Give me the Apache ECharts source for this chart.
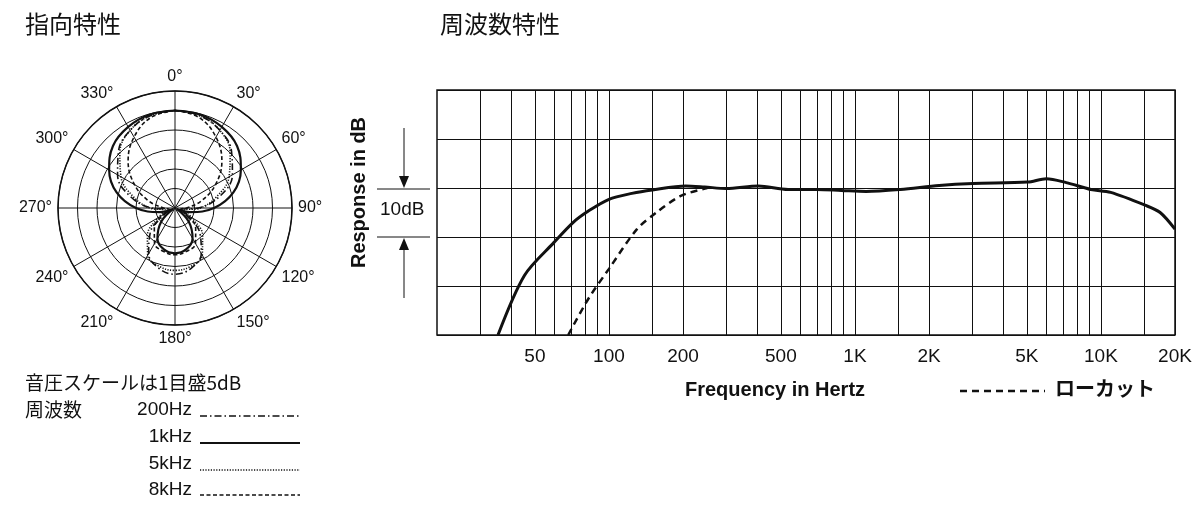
<!DOCTYPE html>
<html><head><meta charset="utf-8">
<script src="https://cdn.jsdelivr.net/npm/echarts@6/dist/echarts.min.js"></script>
<style>html,body{margin:0;background:#fff}#c{width:1200px;height:510px}</style>
</head><body><div id="c"></div>
<script>
// polar pattern, radius in dB steps (0..30, 5dB per ring), 0..180 every 15 deg, mirrored
const angles = [0, 15, 30, 45, 60, 75, 90, 105, 120, 135, 150, 165, 180];
const p200 = [25, 24.5, 23, 20.5, 17, 12, 6, 1.5, 3, 9, 13.5, 16, 17];
const p1k = [25, 24.8, 24, 22.5, 19.5, 15.5, 10, 4, 0.5, 5, 9, 11, 11.6];
const p5k = [25, 24.5, 23, 20, 16, 11, 6.5, 2.5, 5, 10, 14, 15.5, 16];
const p8k = [25, 24, 21, 17, 12, 7, 3, 1.5, 4, 7.5, 10.5, 11.5, 12];

// frequency response
const freqMain = [35.4, 45.4, 59.8, 71.6, 82.5, 100, 124, 150, 205, 245, 300, 405, 535, 700, 880, 1110, 1530, 2200, 3020, 5030, 6000, 7230, 9100, 10950, 15100, 17400, 20000];
const dbMain = [-30, -17.8, -11.1, -7, -4.7, -2.3, -1.1, -0.4, 0.4, 0.2, -0.1, 0.4, -0.3, -0.3, -0.5, -0.7, -0.3, 0.5, 0.9, 1.2, 1.9, 1.1, -0.3, -0.9, -3.5, -5, -8.4];
const freqCut = [68.3, 82.5, 100, 130, 156, 196, 251];
const dbCut = [-30, -22.6, -16.5, -8.4, -5, -1.6, 0];
const gridFreqs = [30, 40, 50, 60, 70, 80, 90, 100, 150, 200, 300, 400, 500, 600, 700, 800, 900, 1000, 1500, 2000, 3000, 4000, 5000, 6000, 7000, 8000, 9000, 10000, 15000];
const tickLabels = { 50: '50', 100: '100', 200: '200', 500: '500', 1000: '1K', 2000: '2K', 5000: '5K', 10000: '10K', 20000: '20K' };

const FONT = "'Liberation Sans','Noto Sans CJK JP',sans-serif";
const JP = "'Noto Sans CJK JP',sans-serif";

const mirror = (vals) => {
  const out = angles.map((a, i) => [vals[i], a]);
  for (let i = angles.length - 2; i >= 0; i--) out.push([vals[i], 360 - angles[i]]);
  return out;
};
const polarLine = (name, vals, type, w) => ({
  name, type: 'line', coordinateSystem: 'polar', smooth: 0.4, symbol: 'none',
  data: mirror(vals), lineStyle: { color: '#111', width: w, type }, z: 5,
});

const chart = echarts.init(document.getElementById('c'));
const markData = gridFreqs.map((f) => ({ xAxis: f, label: { show: !!tickLabels[f], formatter: tickLabels[f] || '' } }));
markData.push({ xAxis: 20000, label: { show: true, formatter: '20K' } });

chart.setOption({
  animation: false,
  polar: { center: [175, 208], radius: 117 },
  angleAxis: {
    type: 'value', min: 0, max: 360, interval: 30, startAngle: 90, clockwise: true,
    axisLine: { lineStyle: { color: '#111', width: 1.5 } },
    axisTick: { show: false },
    axisLabel: { formatter: (v) => (v === 360 ? '' : v + '°'), color: '#111', fontSize: 16, fontFamily: FONT, margin: 6 },
    splitLine: { lineStyle: { color: '#111', width: 1 } },
  },
  radiusAxis: {
    min: 0, max: 30, interval: 5,
    axisLine: { show: false }, axisTick: { show: false }, axisLabel: { show: false },
    splitLine: { lineStyle: { color: '#111', width: 1 } },
  },
  grid: { left: 437, top: 90, width: 738, height: 245, show: true, borderColor: '#111', borderWidth: 1.5 },
  xAxis: {
    type: 'log', logBase: 10, min: 20, max: 20000,
    axisLine: { show: false }, axisTick: { show: false }, axisLabel: { show: false }, splitLine: { show: false },
  },
  yAxis: {
    type: 'value', min: -30, max: 20, interval: 10,
    axisLine: { show: false }, axisTick: { show: false }, axisLabel: { show: false },
    splitLine: { lineStyle: { color: '#111', width: 1.2 } },
    name: 'Response in dB', nameLocation: 'middle', nameGap: 68, nameRotate: 90,
    nameTextStyle: { fontSize: 20, fontWeight: 'bold', color: '#111', fontFamily: FONT, padding: [0, 0, 0, 40] },
  },
  series: [
    polarLine('200Hz', p200, [7, 3, 1.5, 3], 1.6),
    polarLine('1kHz', p1k, 'solid', 2.2),
    polarLine('5kHz', p5k, [1.2, 1.5], 1.6),
    polarLine('8kHz', p8k, [4, 2.5], 1.6),
    {
      type: 'line', smooth: 0.3, symbol: 'none', data: freqMain.map((f, i) => [f, dbMain[i]]),
      lineStyle: { color: '#111', width: 3 }, z: 5,
      markLine: {
        silent: true, symbol: 'none', animation: false,
        lineStyle: { color: '#111', width: 1, type: 'solid' },
        label: { position: 'start', color: '#111', fontSize: 19, fontFamily: FONT, distance: 12 },
        data: markData,
      },
    },
    {
      type: 'line', smooth: 0.3, symbol: 'none', data: freqCut.map((f, i) => [f, dbCut[i]]),
      lineStyle: { color: '#111', width: 2.5, type: [7, 5] }, z: 5,
    },
  ],
  graphic: [
    { type: 'text', left: 25, top: 12, style: { text: '指向特性', fontSize: 24, fontFamily: JP, fill: '#111' } },
    { type: 'text', left: 440, top: 12, style: { text: '周波数特性', fontSize: 24, fontFamily: JP, fill: '#111' } },
    { type: 'text', left: 25, top: 373, style: { text: '音圧スケールは1目盛5dB', fontSize: 19, fontFamily: JP, fill: '#111' } },
    { type: 'text', left: 25, top: 400, style: { text: '周波数', fontSize: 19, fontFamily: JP, fill: '#111' } },
    { type: 'text', right: 1008, top: 400, style: { text: '200Hz', fontSize: 19, fontFamily: FONT, fill: '#111', align: 'right' } },
    { type: 'text', right: 1008, top: 427, style: { text: '1kHz', fontSize: 19, fontFamily: FONT, fill: '#111', align: 'right' } },
    { type: 'text', right: 1008, top: 454, style: { text: '5kHz', fontSize: 19, fontFamily: FONT, fill: '#111', align: 'right' } },
    { type: 'text', right: 1008, top: 480, style: { text: '8kHz', fontSize: 19, fontFamily: FONT, fill: '#111', align: 'right' } },
    { type: 'line', shape: { x1: 200, y1: 416, x2: 300, y2: 416 }, style: { stroke: '#111', lineWidth: 1.6, lineDash: [7, 3, 1.5, 3] } },
    { type: 'line', shape: { x1: 200, y1: 443, x2: 300, y2: 443 }, style: { stroke: '#111', lineWidth: 2.2 } },
    { type: 'line', shape: { x1: 200, y1: 470, x2: 300, y2: 470 }, style: { stroke: '#111', lineWidth: 1.6, lineDash: [1.2, 1.5] } },
    { type: 'line', shape: { x1: 200, y1: 495, x2: 300, y2: 495 }, style: { stroke: '#111', lineWidth: 1.6, lineDash: [4, 2.5] } },
    { type: 'text', left: 685, top: 380, style: { text: 'Frequency in Hertz', fontSize: 20, fontWeight: 'bold', fontFamily: FONT, fill: '#111' } },
    { type: 'line', shape: { x1: 960, y1: 391, x2: 1045, y2: 391 }, style: { stroke: '#111', lineWidth: 2.5, lineDash: [7, 5] } },
    { type: 'text', left: 1055, top: 378, style: { text: 'ローカット', fontSize: 20, fontWeight: 'bold', fontFamily: JP, fill: '#111' } },
    { type: 'text', left: 380, top: 200, style: { text: '10dB', fontSize: 19, fontFamily: FONT, fill: '#111' } },
    { type: 'line', shape: { x1: 377, y1: 189, x2: 430, y2: 189 }, style: { stroke: '#111', lineWidth: 1 } },
    { type: 'line', shape: { x1: 377, y1: 237, x2: 430, y2: 237 }, style: { stroke: '#111', lineWidth: 1 } },
    { type: 'line', shape: { x1: 404, y1: 128, x2: 404, y2: 180 }, style: { stroke: '#111', lineWidth: 1 } },
    { type: 'polygon', shape: { points: [[399, 176], [409, 176], [404, 188]] }, style: { fill: '#111' } },
    { type: 'line', shape: { x1: 404, y1: 246, x2: 404, y2: 298 }, style: { stroke: '#111', lineWidth: 1 } },
    { type: 'polygon', shape: { points: [[399, 250], [409, 250], [404, 238]] }, style: { fill: '#111' } },
  ],
});
</script></body></html>
